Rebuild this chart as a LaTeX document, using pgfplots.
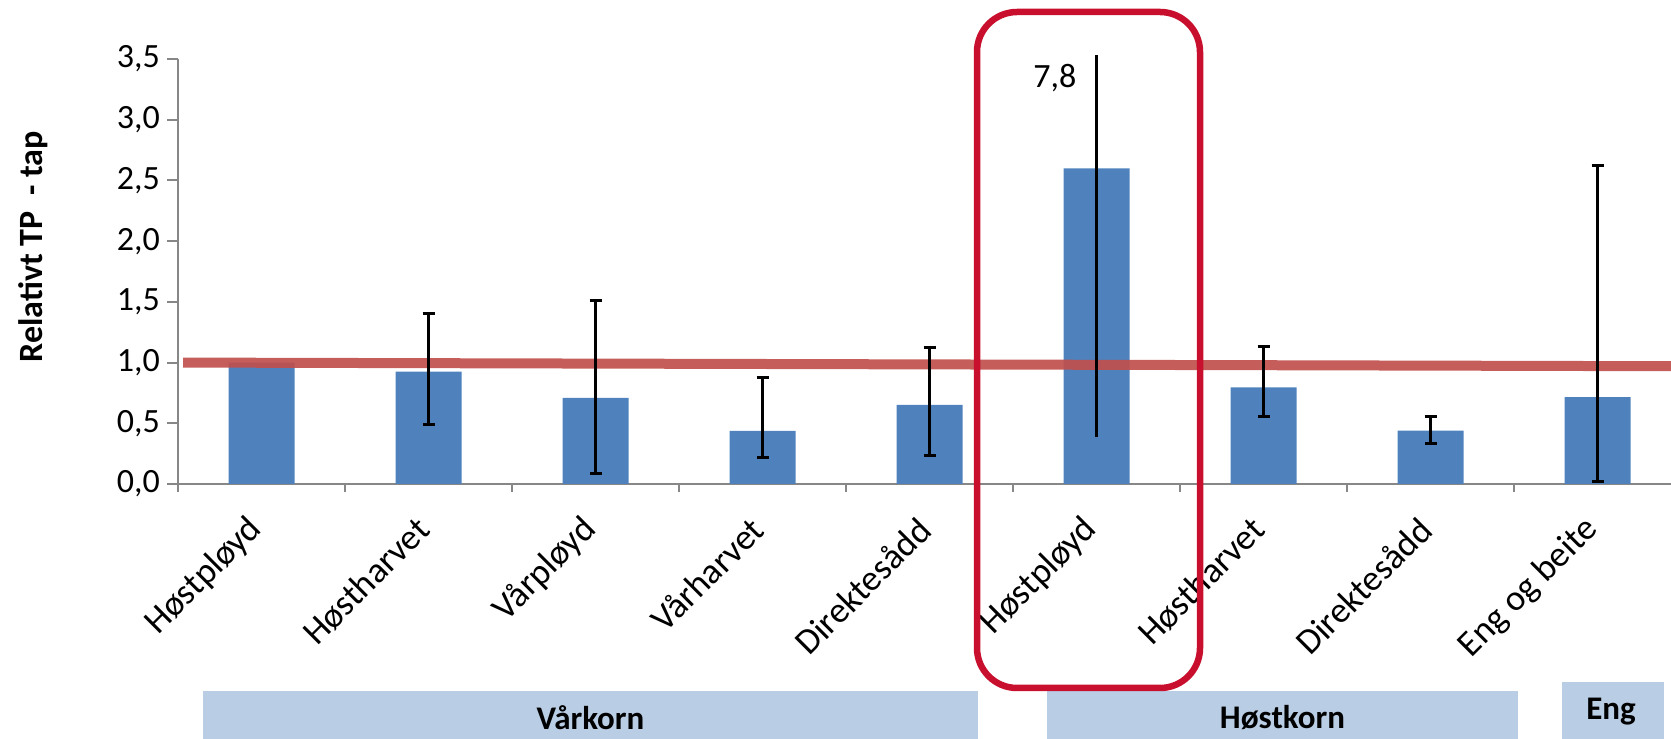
\documentclass[border=0pt]{standalone}
\usepackage{pgfplots}
\pgfplotsset{compat=1.18}
\usepackage{pgfplotstable}
\usepackage{fontspec}
\setmainfont{Carlito}
\definecolor{barblue}{HTML}{4F81BD}
\definecolor{refline}{HTML}{C0504D}
\definecolor{boxred}{HTML}{C8102E}
\definecolor{band}{HTML}{B9CDE5}
\definecolor{axisgray}{HTML}{878787}

% relative TP loss per tillage; ep/em = upper/lower error
\pgfplotstableread{
x y
0 1.000
1 0.925
2 0.710
3 0.437
4 0.651
5 2.600
6 0.795
7 0.440
8 0.715
}\tapdata

\pgfplotstableread{
x y ep em
1 0.925 0.480 0.438
2 0.710 0.800 0.625
3 0.437 0.442 0.220
4 0.651 0.469 0.418
6 0.795 0.335 0.242
7 0.440 0.115 0.110
8 0.715 1.905 0.695
}\errdata

% Hoestploeyd (hoestkorn): upper end 7,8 runs off the axis
\pgfplotstableread{
x y ep em
5 2.600 0.930 2.215
}\errhigh

\begin{document}
\begin{tikzpicture}
\useasboundingbox (0,0) rectangle (835.5pt,369.5pt);
\begin{axis}[
    at={(89pt,127.5pt)}, anchor=south west,
    scale only axis, width=746.5pt, height=212.5pt,
    xmin=-0.5, xmax=8.44, ymin=0, ymax=3.5,
    clip=false,
    axis x line*=bottom, axis y line*=left,
    axis line style={axisgray, line width=1.2pt},
    tick align=outside,
    xtick={0,...,8},
    xticklabels={Høstpløyd,Høstharvet,Vårpløyd,Vårharvet,Direktesådd,Høstpløyd,Høstharvet,Direktesådd,Eng og beite},
    major x tick style={draw=none},
    minor xtick={-0.5,0.5,...,7.5},
    minor x tick style={axisgray, line width=1pt},
    minor tick length=4pt,
    ytick={0,0.5,...,3.5},
    ytick style={axisgray, line width=1pt},
    major tick length=5.5pt,
    xticklabel style={font=\fontsize{18}{20}\selectfont, yshift=-12pt, rotate=45, anchor=east},
    yticklabel style={font=\fontsize{17}{19}\selectfont,
        /pgf/number format/.cd, fixed, fixed zerofill, precision=1, use comma, assume math mode=true},
    ylabel={Relativt TP \ - tap},
    every axis y label/.style={at={(axis description cs:-0.097,0.558)}, rotate=90, anchor=center,
        font=\bfseries\fontsize{17}{19}\selectfont},
]
\addplot[ybar, bar width=33pt, fill=barblue, draw=none] table[x=x, y=y] {\tapdata};
\addplot[refline, line width=5pt, opacity=0.92] coordinates {(-0.47,1.0) (8.44,0.97)};
\addplot[draw=none, mark=none,
    error bars/.cd, y dir=both, y explicit,
    error bar style={draw=black, line width=1.5pt},
    error mark options={rotate=90, draw=black, line width=1.5pt, mark size=3pt}]
    table[x=x, y=y, y error plus=ep, y error minus=em] {\errdata};
\addplot[draw=none, mark=none,
    error bars/.cd, y dir=both, y explicit, error mark=none,
    error bar style={draw=black, line width=1.5pt}]
    table[x=x, y=y, y error plus=ep, y error minus=em] {\errhigh};
\node[font=\fontsize{17}{19}\selectfont] at (axis cs:4.75,3.34) {7,8};
\end{axis}
% group bands under the category labels
\fill[band] (101.5pt,0) rectangle (489pt,24pt);
\node[font=\bfseries\fontsize{16.5}{18}\selectfont] at (295.25pt,10.5pt) {Vårkorn};
\fill[band] (523.5pt,0) rectangle (759pt,24pt);
\node[font=\bfseries\fontsize{16.5}{18}\selectfont] at (641.25pt,10.5pt) {Høstkorn};
\fill[band] (781pt,0) rectangle (832pt,28.5pt);
\node[font=\bfseries\fontsize{16.5}{18}\selectfont] at (805.5pt,13.5pt) {Eng};
\draw[boxred, line width=3.25pt, rounded corners=20pt] (488.5pt,25.5pt) rectangle (600pt,363.5pt);
\end{tikzpicture}
\end{document}
